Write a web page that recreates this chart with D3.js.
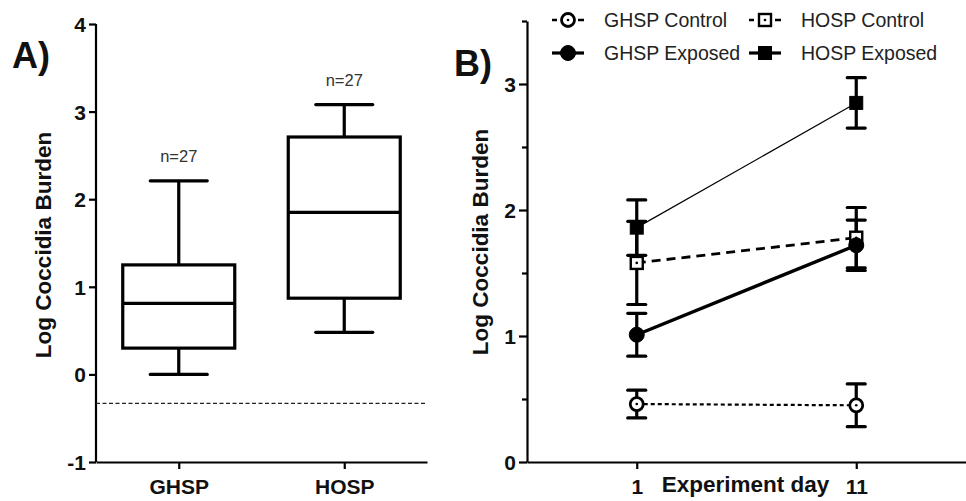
<!DOCTYPE html>
<html><head><meta charset="utf-8">
<script src="https://cdn.jsdelivr.net/npm/d3@7/dist/d3.min.js"></script>
<style>
body{margin:0;background:#fff;}
svg{display:block;font-family:"Liberation Sans",Arial,sans-serif;}
</style></head>
<body><svg id="c" width="966" height="501"></svg>
<script>
// Panel A data
const groups = ["GHSP", "HOSP"];
const whiskerLow = [0.00, 0.48];
const q1 = [0.30, 0.87];
const median = [0.81, 1.85];
const q3 = [1.25, 2.71];
const whiskerHigh = [2.21, 3.08];
const nLabels = ["n=27", "n=27"];
const detectionLimit = -0.33;
const yTicksA = [-1, 0, 1, 2, 3, 4];

// Panel B data
const days = ["1", "11"];
const seriesNames = ["GHSP Control", "HOSP Control", "GHSP Exposed", "HOSP Exposed"];
const ghspControl = [0.46, 0.45];
const ghspControlSem = [0.11, 0.17];
const ghspExposed = [1.01, 1.72];
const ghspExposedSem = [0.17, 0.20];
const hospControl = [1.58, 1.78];
const hospControlSem = [0.33, 0.24];
const hospExposed = [1.86, 2.85];
const hospExposedSem = [0.22, 0.20];
const yTicksB = [0, 1, 2, 3];
const yMinorB = [0.5, 1.5, 2.5, 3.5];

const svg = d3.select("#c");
const fmt = d => String(d);

// ---------- Panel A ----------
const xA = d3.scalePoint().domain(groups).range([96, 427]).padding(0.5);
const yA = d3.scaleLinear().domain([-1, 4]).range([462, 24]);

const gA = svg.append("g");
const axYA = gA.append("g").attr("transform", "translate(96,0)")
  .call(d3.axisLeft(yA).tickValues(yTicksA).tickSize(7).tickFormat(fmt));
const axXA = gA.append("g").attr("transform", "translate(0,462)")
  .call(d3.axisBottom(xA).tickSize(7).tickSizeOuter(0));
[axYA, axXA].forEach(a => {
  a.selectAll("path,line").attr("stroke", "#000").attr("stroke-width", 2.2);
  a.selectAll("text").attr("font-size", 21).attr("font-weight", "bold").attr("fill", "#111");
});
axYA.select(".domain").attr("d", `M-0,${yA(4)}V${yA(-1)}`);
axYA.selectAll("text").attr("x", -10).attr("dy", "0.36em");
axXA.selectAll("text").attr("dy", "1.05em");

// detection limit line
gA.append("line").attr("x1", xA.range()[0]).attr("x2", xA.range()[1])
  .attr("y1", yA(detectionLimit)).attr("y2", yA(detectionLimit))
  .attr("stroke", "#222").attr("stroke-width", 1.2).attr("stroke-dasharray", "4,2.5");

const boxW = 112, capW = 57;
groups.forEach((g, i) => {
  const cx = xA(g);
  const box = gA.append("g").attr("stroke", "#000").attr("stroke-width", 3.2).attr("fill", "none");
  box.append("line").attr("x1", cx).attr("x2", cx).attr("y1", yA(whiskerHigh[i])).attr("y2", yA(q3[i]));
  box.append("line").attr("x1", cx).attr("x2", cx).attr("y1", yA(q1[i])).attr("y2", yA(whiskerLow[i]));
  box.append("line").attr("x1", cx - capW/2).attr("x2", cx + capW/2).attr("y1", yA(whiskerHigh[i])).attr("y2", yA(whiskerHigh[i])).attr("stroke-linecap","round");
  box.append("line").attr("x1", cx - capW/2).attr("x2", cx + capW/2).attr("y1", yA(whiskerLow[i])).attr("y2", yA(whiskerLow[i])).attr("stroke-linecap","round");
  box.append("rect").attr("x", cx - boxW/2).attr("width", boxW).attr("y", yA(q3[i])).attr("height", yA(q1[i]) - yA(q3[i]));
  box.append("line").attr("x1", cx - boxW/2).attr("x2", cx + boxW/2).attr("y1", yA(median[i])).attr("y2", yA(median[i]));
  gA.append("text").attr("x", cx).attr("y", yA(whiskerHigh[i]) - 19).attr("text-anchor", "middle")
    .attr("font-size", 16.5).attr("fill", "#333").text(nLabels[i]);
});

gA.append("text").attr("transform", "translate(51,245) rotate(-90)").attr("text-anchor", "middle")
  .attr("font-size", 22.5).attr("font-weight", "bold").attr("fill", "#111").text("Log Coccidia Burden");
gA.append("text").attr("x", 12).attr("y", 68).attr("font-size", 36).attr("font-weight", "bold").attr("fill", "#111").text("A)");

// ---------- Panel B ----------
const xB = d3.scalePoint().domain(days).range([527, 966]).padding(0.5);
const yB = d3.scaleLinear().domain([0, 3.5]).range([462, 21]);

const gB = svg.append("g");
const axYB = gB.append("g").attr("transform", "translate(527,0)")
  .call(d3.axisLeft(yB).tickValues(yTicksB).tickSize(8).tickSizeOuter(0).tickFormat(fmt));
gB.append("g").attr("transform", "translate(527,0)")
  .call(d3.axisLeft(yB).tickValues(yMinorB).tickSize(5).tickFormat("").tickSizeOuter(0))
  .call(a => a.select(".domain").remove())
  .selectAll("line").attr("stroke", "#000").attr("stroke-width", 2.2);
const axXB = gB.append("g").attr("transform", "translate(0,462)")
  .call(d3.axisBottom(xB).tickSize(7).tickSizeOuter(0));
[axYB, axXB].forEach(a => {
  a.selectAll("path,line").attr("stroke", "#000").attr("stroke-width", 2.2);
  a.selectAll("text").attr("font-size", 21).attr("font-weight", "bold").attr("fill", "#111");
});
axYB.selectAll("text").attr("x", -11).attr("dy", "0.36em");
axXB.selectAll("text").attr("dy", "1.05em");

gB.append("text").attr("x", (xB("1") + xB("11")) / 2 - 1).attr("y", 492).attr("text-anchor", "middle")
  .attr("font-size", 22.5).attr("font-weight", "bold").attr("fill", "#111").text("Experiment day");
gB.append("text").attr("transform", "translate(488,242) rotate(-90)").attr("text-anchor", "middle")
  .attr("font-size", 22.5).attr("font-weight", "bold").attr("fill", "#111").text("Log Coccidia Burden");
gB.append("text").attr("x", 454).attr("y", 76).attr("font-size", 36).attr("font-weight", "bold").attr("fill", "#111").text("B)");

const series = [
  {name: seriesNames[0], vals: ghspControl, sem: ghspControlSem, shape: "circle", filled: false, lw: 2.2, dash: "4,3"},
  {name: seriesNames[1], vals: hospControl, sem: hospControlSem, shape: "square", filled: false, lw: 2.8, dash: "9,6"},
  {name: seriesNames[2], vals: ghspExposed, sem: ghspExposedSem, shape: "circle", filled: true, lw: 3.4, dash: null},
  {name: seriesNames[3], vals: hospExposed, sem: hospExposedSem, shape: "square", filled: true, lw: 1.2, dash: null},
];

const line = d3.line().x((d, i) => xB(days[i])).y(d => yB(d));
series.forEach(s => {
  gB.append("path").attr("d", line(s.vals)).attr("fill", "none").attr("stroke", "#000")
    .attr("stroke-width", s.lw).attr("stroke-dasharray", s.dash);
});
const errCap = 18;
series.forEach(s => {
  s.vals.forEach((v, i) => {
    const cx = xB(days[i]);
    const e = gB.append("g").attr("stroke", "#000").attr("stroke-width", 3.2);
    e.append("line").attr("x1", cx).attr("x2", cx).attr("y1", yB(v + s.sem[i])).attr("y2", yB(v - s.sem[i]));
    [v + s.sem[i], v - s.sem[i]].forEach(t => e.append("line").attr("x1", cx - errCap/2).attr("x2", cx + errCap/2)
      .attr("y1", yB(t)).attr("y2", yB(t)).attr("stroke-linecap", "round"));
  });
});
function marker(g, shape, filled, cx, cy) {
  if (shape === "circle") {
    g.append("circle").attr("cx", cx).attr("cy", cy).attr("r", filled ? 7.5 : 6.5)
      .attr("fill", filled ? "#000" : "#fff").attr("stroke", "#000").attr("stroke-width", filled ? 1 : 2.8);
  } else {
    const s = filled ? 13 : 12;
    g.append("rect").attr("x", cx - s/2).attr("y", cy - s/2).attr("width", s).attr("height", s)
      .attr("fill", filled ? "#000" : "#fff").attr("stroke", "#000").attr("stroke-width", filled ? 1 : 2.4);
  }
  if (!filled) g.append("circle").attr("cx", cx).attr("cy", cy).attr("r", 1.3).attr("fill", "#000");
}
series.forEach(s => s.vals.forEach((v, i) => marker(gB, s.shape, s.filled, xB(days[i]), yB(v))));

// legend
const legCols = [568, 765], legRows = [20, 53];
const legOrder = [[0, 0, 0], [1, 1, 0], [2, 0, 1], [3, 1, 1]];
legOrder.forEach(([si, c, r]) => {
  const s = series[si];
  const cx = legCols[c], cy = legRows[r];
  const lg = svg.append("g");
  lg.append("line").attr("x1", cx - 16).attr("x2", cx + 16).attr("y1", cy).attr("y2", cy)
    .attr("stroke", "#000").attr("stroke-width", s.filled ? 3.2 : 2.4)
    .attr("stroke-dasharray", s.filled ? null : "5,11,5");
  marker(lg, s.shape, s.filled, cx, cy);
  lg.append("text").attr("x", cx + 36).attr("y", cy + 7).attr("font-size", 19.5).attr("fill", "#222").text(s.name);
});
</script></body></html>
